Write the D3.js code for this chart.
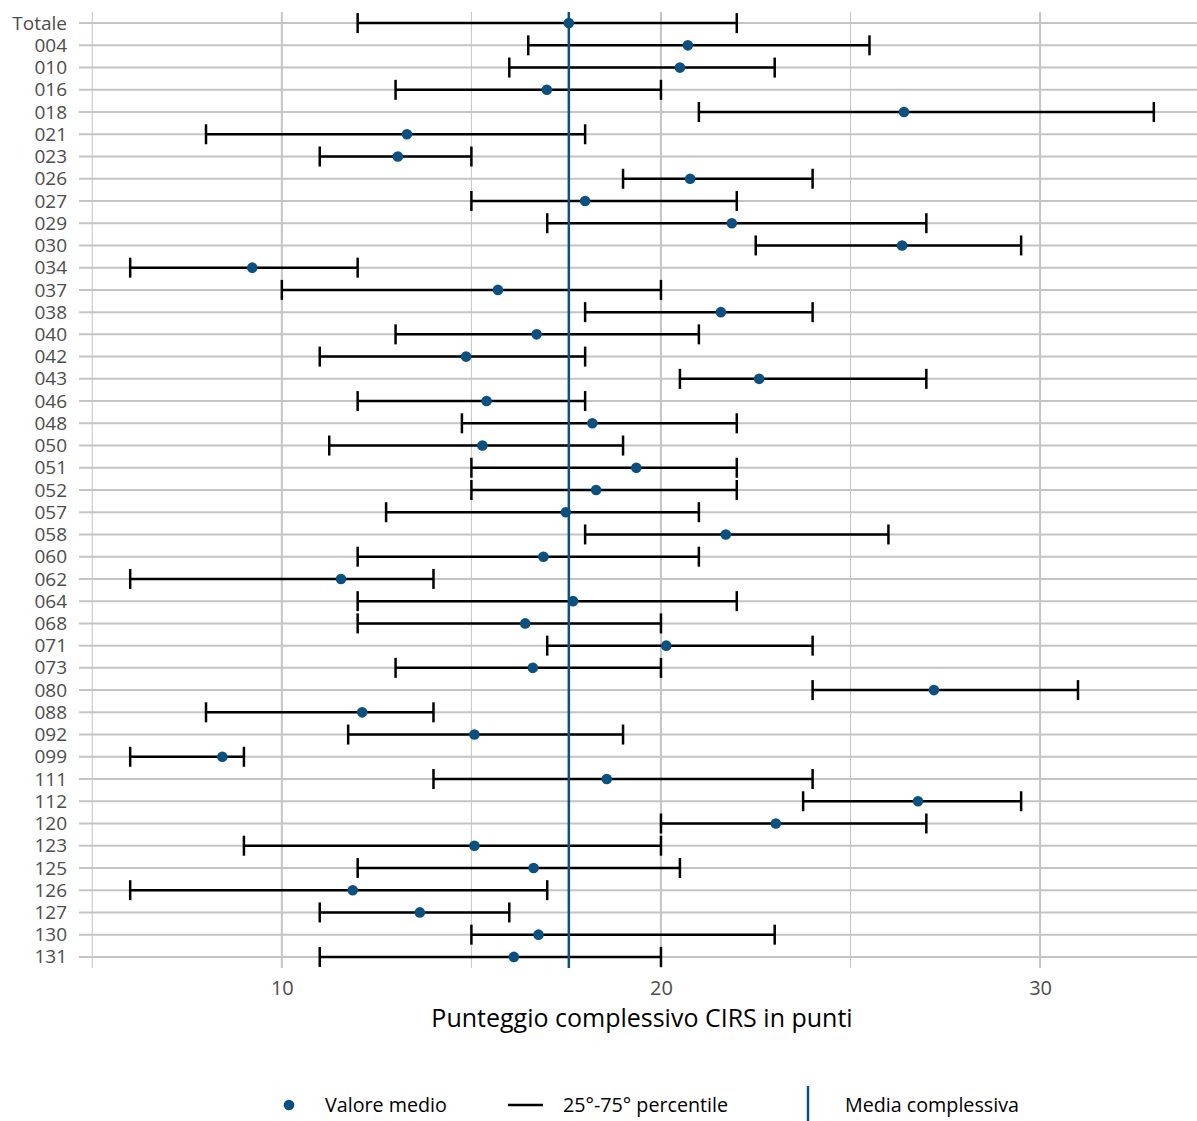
<!DOCTYPE html>
<html>
<head>
<meta charset="utf-8">
<script src="https://cdn.jsdelivr.net/npm/d3@7"></script>
<style>
  html, body { margin: 0; padding: 0; background: #fff; }
  svg text { font-family: "Open Sans", "Noto Sans", sans-serif; }
</style>
</head>
<body>
<div id="chart"></div>
<script>
// CIRS score by unit: mean with 25th-75th percentile range.
var units = ['Totale', '004', '010', '016', '018', '021', '023', '026', '027', '029',
    '030', '034', '037', '038', '040', '042', '043', '046', '048', '050',
    '051', '052', '057', '058', '060', '062', '064', '068', '071', '073',
    '080', '088', '092', '099', '111', '112', '120', '123', '125', '126',
    '127', '130', '131'];
var meanVals = [17.57, 20.71, 20.5, 16.99, 26.41, 13.3, 13.06, 20.77, 18.0, 21.87,
    26.36, 9.22, 15.7, 21.58, 16.72, 14.86, 22.59, 15.4, 18.19, 15.29,
    19.35, 18.29, 17.49, 21.71, 16.9, 11.56, 17.68, 16.42, 20.14, 16.62,
    27.2, 12.12, 15.08, 8.43, 18.57, 26.78, 23.03, 15.08, 16.64, 11.87,
    13.64, 16.77, 16.12];
var p25 = [12, 16.5, 16, 13, 21, 8, 11, 19, 15, 17,
    22.5, 6, 10, 18, 13, 11, 20.5, 12, 14.75, 11.25,
    15, 15, 12.75, 18, 12, 6, 12, 12, 17, 13,
    24, 8, 11.75, 6, 14, 23.75, 20, 9, 12, 6,
    11, 15, 11];
var p75 = [22, 25.5, 23, 20, 33, 18, 15, 24, 22, 27,
    29.5, 12, 20, 24, 21, 18, 27, 18, 22, 19,
    22, 22, 21, 26, 21, 14, 22, 20, 24, 20,
    31, 14, 19, 9, 24, 29.5, 27, 20, 20.5, 17,
    16, 23, 20];
var overallMean = 17.57;
var xTicks = [10, 20, 30];
var xMinor = [5, 15, 25];
var legendLabels = ['Valore medio', '25°-75° percentile', 'Media complessiva'];

(function () {
    var W = 1197, H = 1121;
    var blue = '#0b5080';
    var grid = '#c4c4c4';

    var svg = d3.select('#chart').append('svg')
        .attr('width', W).attr('height', H);

    var x = d3.scaleLinear().domain([4.65, 34.35]).range([79, 1205]);
    var y = d3.scalePoint().domain(units).range([12, 968]).padding(0.5);

    var rows = units.map(function (u, i) {
        return { unit: u, mean: meanVals[i], lo: p25[i], hi: p75[i] };
    });

    // Grid: minor, major verticals and horizontal row lines
    svg.append('g').selectAll('line').data(xMinor).enter().append('line')
        .attr('x1', function (d) { return x(d); }).attr('x2', function (d) { return x(d); })
        .attr('y1', 12).attr('y2', 968)
        .attr('stroke', grid).attr('stroke-width', 1);
    svg.append('g').selectAll('line').data(xTicks).enter().append('line')
        .attr('x1', function (d) { return x(d); }).attr('x2', function (d) { return x(d); })
        .attr('y1', 12).attr('y2', 968)
        .attr('stroke', grid).attr('stroke-width', 2);
    svg.append('g').selectAll('line').data(units).enter().append('line')
        .attr('x1', 79).attr('x2', W)
        .attr('y1', function (d) { return y(d); }).attr('y2', function (d) { return y(d); })
        .attr('stroke', grid).attr('stroke-width', 2);

    // Error bars
    var eb = svg.append('g').selectAll('g').data(rows).enter().append('g');
    eb.append('line')
        .attr('x1', function (d) { return x(d.lo); }).attr('x2', function (d) { return x(d.hi); })
        .attr('y1', function (d) { return y(d.unit); }).attr('y2', function (d) { return y(d.unit); })
        .attr('stroke', '#000').attr('stroke-width', 2.5);
    ['lo', 'hi'].forEach(function (k) {
        eb.append('line')
            .attr('x1', function (d) { return x(d[k]); }).attr('x2', function (d) { return x(d[k]); })
            .attr('y1', function (d) { return y(d.unit) - 10; })
            .attr('y2', function (d) { return y(d.unit) + 10; })
            .attr('stroke', '#000').attr('stroke-width', 2.5);
    });

    // Overall mean line
    svg.append('line')
        .attr('x1', x(overallMean)).attr('x2', x(overallMean))
        .attr('y1', 12).attr('y2', 968)
        .attr('stroke', blue).attr('stroke-width', 2.5);

    // Mean points
    svg.append('g').selectAll('circle').data(rows).enter().append('circle')
        .attr('cx', function (d) { return x(d.mean); })
        .attr('cy', function (d) { return y(d.unit); })
        .attr('r', 5.3).attr('fill', blue);

    // Axes
    var yAxis = svg.append('g').attr('transform', 'translate(79,0)')
        .call(d3.axisLeft(y).tickSize(0).tickPadding(12));
    yAxis.select('.domain').remove();
    yAxis.selectAll('text').attr('font-size', 19).attr('fill', '#4d4d4d')
        .attr('font-family', '"Open Sans", sans-serif');

    var xAxis = svg.append('g').attr('transform', 'translate(0,968)')
        .call(d3.axisBottom(x).tickValues(xTicks).tickSize(0).tickPadding(13));
    xAxis.select('.domain').remove();
    xAxis.selectAll('text').attr('font-size', 20).attr('fill', '#4d4d4d')
        .attr('font-family', '"Open Sans", sans-serif');

    svg.append('text')
        .attr('x', 642).attr('y', 1027)
        .attr('text-anchor', 'middle')
        .attr('font-size', 25).attr('fill', '#000')
        .text('Punteggio complessivo CIRS in punti');

    // Legend
    var ly = 1105;
    svg.append('circle').attr('cx', 289).attr('cy', ly).attr('r', 5.3).attr('fill', blue);
    svg.append('line').attr('x1', 508).attr('x2', 543).attr('y1', ly).attr('y2', ly)
        .attr('stroke', '#000').attr('stroke-width', 2.5);
    svg.append('line').attr('x1', 808).attr('x2', 808).attr('y1', 1086).attr('y2', H)
        .attr('stroke', blue).attr('stroke-width', 2.5);
    [325, 563, 845].forEach(function (lx, i) {
        svg.append('text')
            .attr('x', lx).attr('y', ly).attr('dy', '0.35em')
            .attr('font-size', 19.7).attr('fill', '#000')
            .text(legendLabels[i]);
    });
})();
</script>
</body>
</html>
